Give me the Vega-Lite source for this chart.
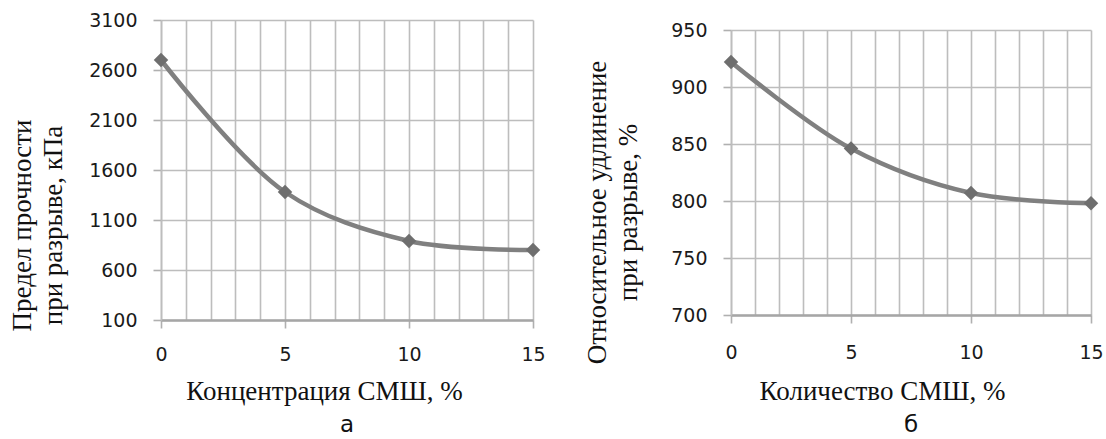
{
  "$schema": "https://vega.github.io/schema/vega-lite/v6.json",
  "background": "white",
  "padding": {"left": 7, "top": 11, "right": 4, "bottom": 0},
  "datasets": {
    "a": [
      {"conc": 0, "val": 2700},
      {"conc": 5, "val": 1380},
      {"conc": 10, "val": 890},
      {"conc": 15, "val": 800}
    ],
    "b": [
      {"conc": 0, "val": 922},
      {"conc": 5, "val": 846},
      {"conc": 10, "val": 807},
      {"conc": 15, "val": 798}
    ]
  },
  "hconcat": [
    {
      "width": 372,
      "height": 300,
      "data": {"name": "a"},
      "title": {"text": "а", "orient": "bottom", "frame": "group", "offset": 10},
      "mark": {"type": "line", "interpolate": "catmull-rom", "color": "#808080", "strokeWidth": 4.5,
        "point": {"shape": "diamond", "size": 210, "filled": true, "color": "#6e6e6e", "opacity": 1}},
      "encoding": {
        "x": {
          "field": "conc", "type": "quantitative",
          "scale": {"domain": [0, 15], "nice": false, "zero": false},
          "axis": {
            "values": [0,1,2,3,4,5,6,7,8,9,10,11,12,13,14,15],
            "format": "d",
            "labelExpr": "datum.value % 5 === 0 ? datum.label : ''",
            "tickOpacity": {"condition": {"test": "datum.value % 5 === 0", "value": 1}, "value": 0},
            "labelOverlap": false, "labelFlush": false, "labelPadding": 17,
            "title": "Концентрация СМШ, %", "titleX": 163, "titlePadding": 14,
            "domainColor": "#a6a6a6", "domainWidth": 2.5
          }
        },
        "y": {
          "field": "val", "type": "quantitative",
          "scale": {"domain": [100, 3100], "nice": false, "zero": false},
          "axis": {
            "values": [100, 600, 1100, 1600, 2100, 2600, 3100],
            "format": "d",
            "labelOverlap": false, "labelPadding": 16,
            "title": ["Предел прочности", "при разрыве, кПа"],
            "titleBaseline": "alphabetic", "titleX": -131, "titleY": 205, "titleLineHeight": 31,
            "domainColor": "#bdbdbd", "domainWidth": 1.6
          }
        }
      }
    },
    {
      "vconcat": [
        {
          "width": 10,
          "height": 1,
          "data": {"name": "b"},
          "mark": {"type": "point", "opacity": 0, "size": 1},
          "encoding": {}
        },
        {
          "width": 360,
          "height": 285,
          "data": {"name": "b"},
          "title": {"text": "б", "orient": "bottom", "frame": "group", "offset": 10},
          "mark": {"type": "line", "interpolate": "catmull-rom", "color": "#808080", "strokeWidth": 4.5,
            "point": {"shape": "diamond", "size": 210, "filled": true, "color": "#6e6e6e", "opacity": 1}},
          "encoding": {
            "x": {
              "field": "conc", "type": "quantitative",
              "scale": {"domain": [0, 15], "nice": false, "zero": false},
              "axis": {
                "values": [0,1,2,3,4,5,6,7,8,9,10,11,12,13,14,15],
                "format": "d",
                "labelExpr": "datum.value % 5 === 0 ? datum.label : ''",
                "tickOpacity": {"condition": {"test": "datum.value % 5 === 0", "value": 1}, "value": 0},
                "labelOverlap": false, "labelFlush": false, "labelPadding": 20,
                "title": "Количество СМШ, %", "titleX": 151, "titlePadding": 16,
                "domainColor": "#a6a6a6", "domainWidth": 2.5
              }
            },
            "y": {
              "field": "val", "type": "quantitative",
              "scale": {"domain": [700, 950], "nice": false, "zero": false},
              "axis": {
                "values": [700, 750, 800, 850, 900, 950],
                "format": "d",
                "labelOverlap": false, "labelPadding": 16,
                "title": ["Относительное удлинение", "при разрыве, %"],
                "titleBaseline": "alphabetic", "titleX": -126, "titleY": 182, "titleLineHeight": 31,
                "domainColor": "#bdbdbd", "domainWidth": 1.6
              }
            }
          }
        }
      ],
      "spacing": 0
    }
  ],
  "spacing": 36,
  "config": {
    "view": {"stroke": null},
    "axis": {
      "labelFont": "DejaVu Sans", "labelFontSize": 19, "labelColor": "#1a1a1a",
      "gridColor": "#bdbdbd", "gridWidth": 1.6,
      "tickColor": "#b0b0b0", "tickWidth": 1.6, "tickSize": 8,
      "titleFont": "Liberation Serif", "titleFontSize": 27, "titleFontWeight": "normal", "titleColor": "#111"
    },
    "title": {"font": "DejaVu Sans", "fontSize": 23, "fontWeight": "normal", "color": "#111"}
  }
}
